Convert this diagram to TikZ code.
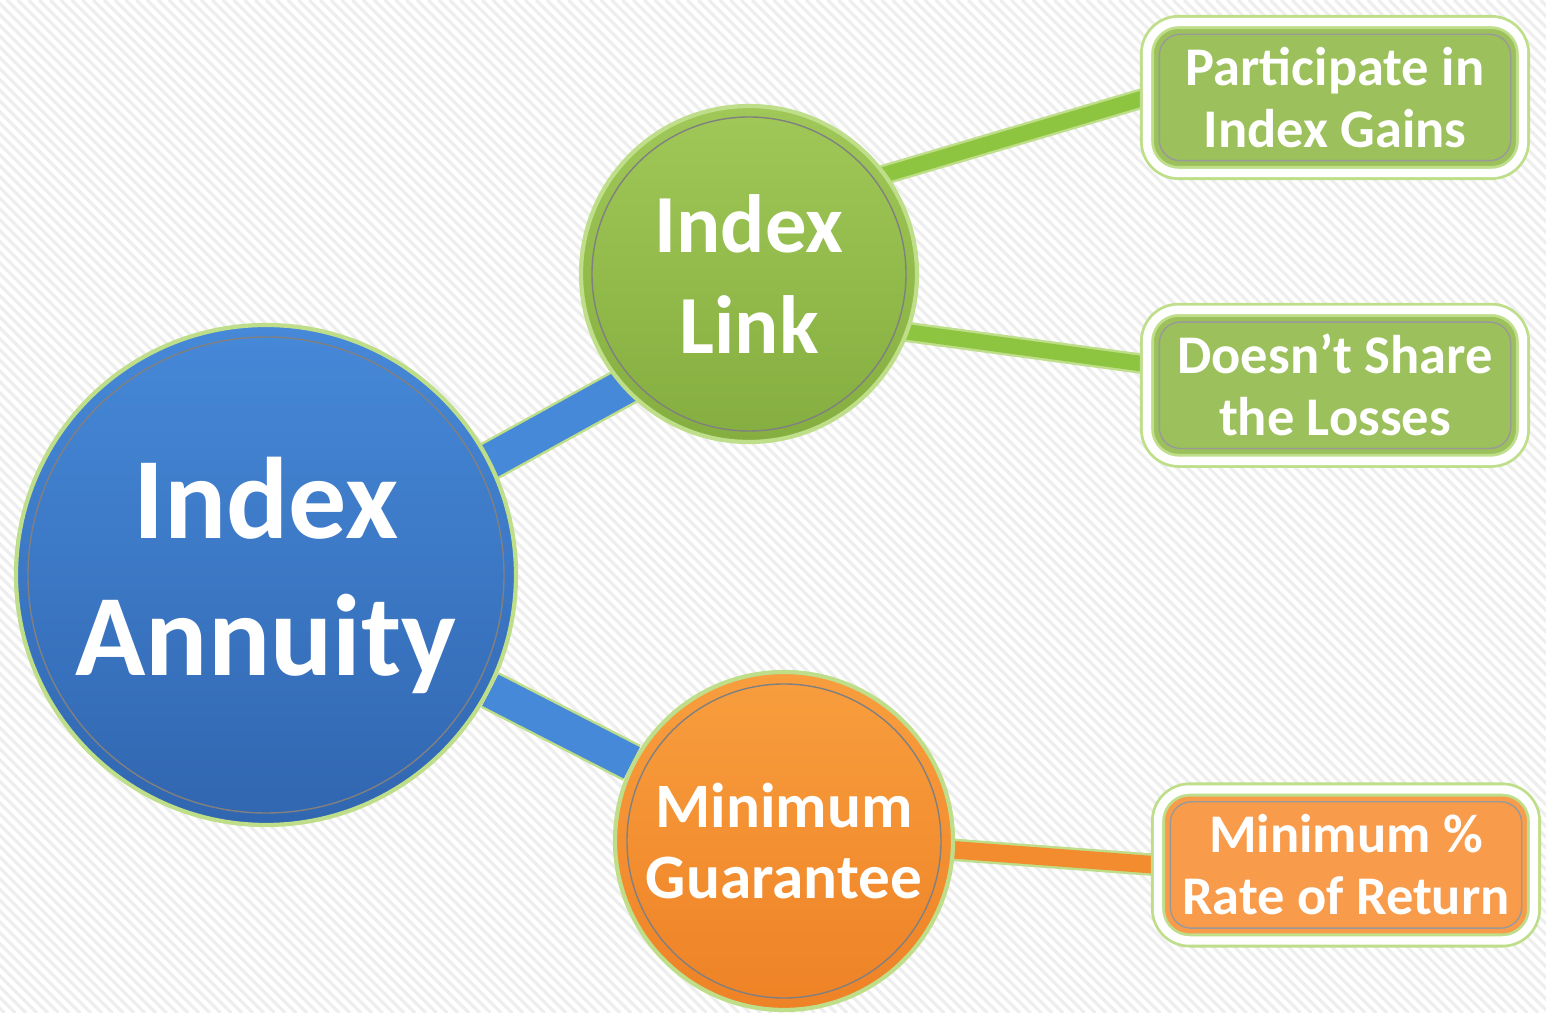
\documentclass[tikz,border=0pt]{standalone}
\usepackage{fontspec}
\setmainfont{Carlito}
\usetikzlibrary{positioning}

\definecolor{stripegray}{HTML}{EEEEEE}
\definecolor{glow}{HTML}{BEDE8A}
\definecolor{annblue}{HTML}{4689D8}
\definecolor{annbluedark}{HTML}{3166B0}
\definecolor{linkgreen}{HTML}{9FC858}
\definecolor{linkgreendark}{HTML}{85AE40}
\definecolor{wiregreen}{HTML}{8EC540}
\definecolor{guarorange}{HTML}{F89E3E}
\definecolor{guarorangedark}{HTML}{EE8226}
\definecolor{wireorange}{HTML}{F28C2E}
\definecolor{boxgreen}{HTML}{9CC05C}
\definecolor{boxorange}{HTML}{F89C4C}

\pgfdeclarelayer{paper}
\pgfdeclarelayer{wires}
\pgfsetlayers{paper,wires,main}

\tikzstyle{stripe} = [draw=stripegray, line width=0.9pt]
\tikzstyle{ball} = [circle, draw=glow, line width=1.2pt, text=white, align=center]
\tikzstyle{innerring} = [path picture={\draw[black!50, line width=0.4pt] (path picture bounding box.center) circle (#1);}]
\tikzstyle{leaf} = [rectangle, rounded corners=9pt, draw=glow, line width=0.8pt, double=white, double distance=2.4pt, minimum width=3.76cm, minimum height=1.51cm, text=white, align=center, font=\bfseries\fontsize{15.5}{17.6}\selectfont, path picture={\draw[black!40, line width=0.4pt, rounded corners=6pt] ([shift={(3.5pt,3.5pt)}]path picture bounding box.south west) rectangle ([shift={(-3.5pt,-3.5pt)}]path picture bounding box.north east);}]
\tikzstyle{bluebar} = [draw=glow, line width=0.7pt, double=annblue, double distance=10pt]
\tikzstyle{greenbar} = [draw=glow, line width=0.7pt, double=wiregreen, double distance=4.4pt]
\tikzstyle{orangebar} = [draw=glow, line width=0.7pt, double=wireorange, double distance=5pt]

\begin{document}
\begin{tikzpicture}
\useasboundingbox (0,0) rectangle (15.46,10.13);
\begin{pgfonlayer}{paper}
\fill[white] (0,0) rectangle (15.46,10.13);
\clip (0,0) rectangle (15.46,10.13);
\foreach \k in {0,...,245}
  \draw[stripe] (\k*0.108-10.3,10.13) -- ++(10.13,-10.13);
\end{pgfonlayer}

\node[ball, innerring=2.38cm, minimum size=5cm, top color=annblue, bottom color=annbluedark, font=\bfseries\fontsize{33}{39}\selectfont] (annuity) at (2.66,4.38) {Index\\Annuity};
\node[ball, innerring=1.57cm, minimum size=3.36cm, top color=linkgreen, bottom color=linkgreendark, font=\bfseries\fontsize{23.5}{28.5}\selectfont] (link) at (7.49,7.39) {Index\\Link};
\node[ball, innerring=1.57cm, minimum size=3.38cm, top color=guarorange, bottom color=guarorangedark, font=\bfseries\fontsize{18}{20}\selectfont] (guarantee) at (7.84,1.72) {Minimum\\Guarantee};

\node[leaf, fill=boxgreen] (gains) at (13.35,9.155) {Participate in\\Index Gains};
\node[leaf, fill=boxgreen, below=1.34cm of gains] (losses) {Doesn’t Share\\the Losses};
\node[leaf, fill=boxorange] (rate) at (13.46,1.48) {Minimum \%\\Rate of Return};

\begin{pgfonlayer}{wires}
\draw[bluebar, shorten <=-6pt, shorten >=-6pt] (annuity.27) -- (link.222);
\draw[bluebar] (annuity) -- (guarantee);
\draw[greenbar, shorten <=-3pt] (link.36) -- (gains.west);
\draw[greenbar, shorten <=-3pt] (link.-20) -- ([yshift=6pt]losses.west);
\draw[orangebar, shorten <=-3pt] (guarantee.-3) -- (rate.west);
\end{pgfonlayer}
\end{tikzpicture}
\end{document}
